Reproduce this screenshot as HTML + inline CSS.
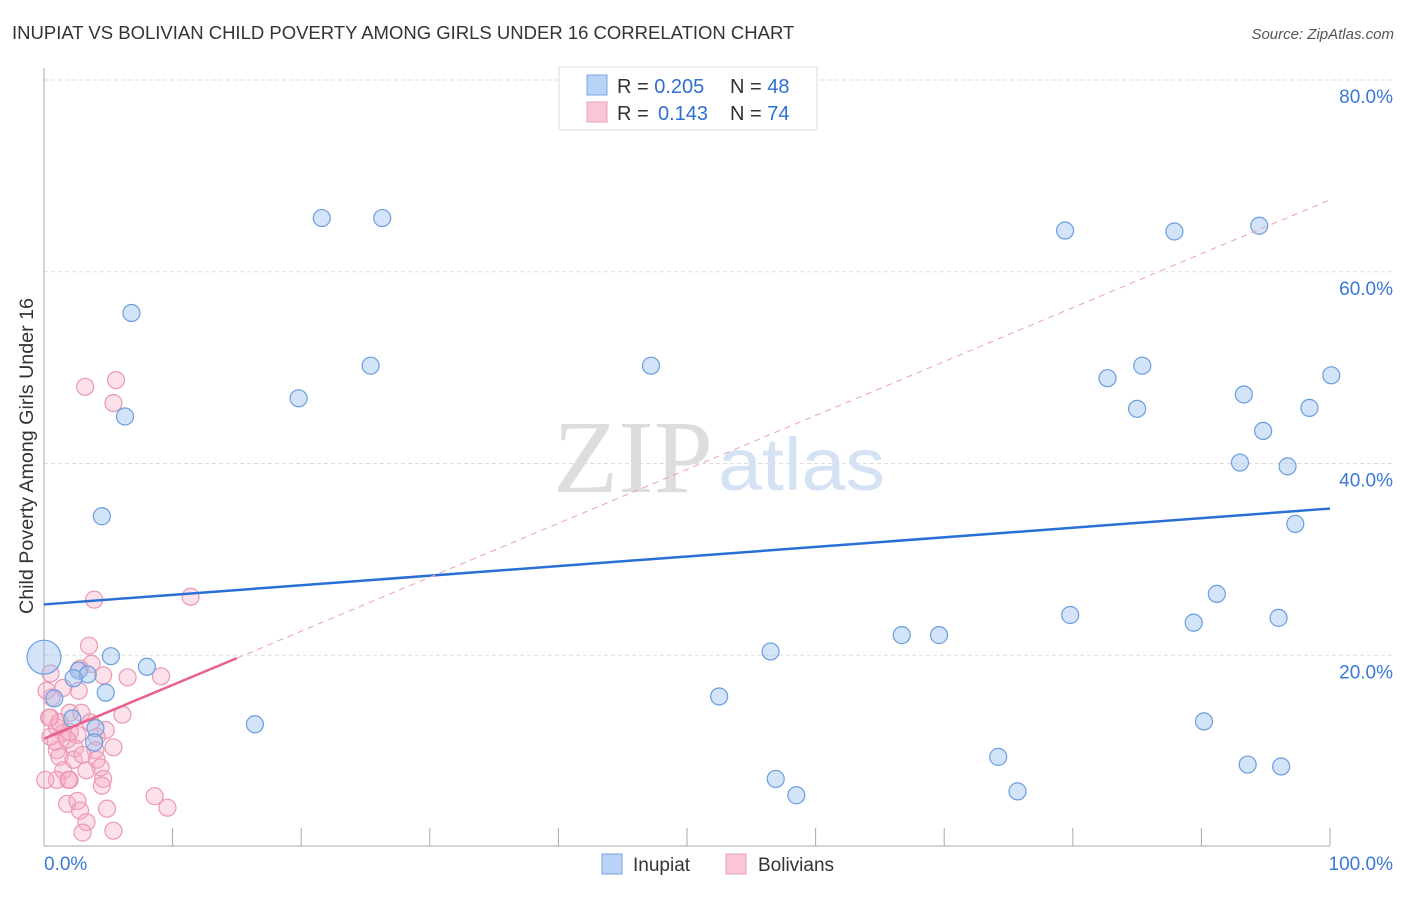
<!DOCTYPE html>
<html><head><meta charset="utf-8"><style>
body{margin:0;background:#fff;font-family:"Liberation Sans",sans-serif}
svg text{font-family:"Liberation Sans",sans-serif}
</style></head><body>
<svg id="c" width="1406" height="892" xmlns="http://www.w3.org/2000/svg">
<text x="12" y="39" font-size="18.5" fill="#333">INUPIAT VS BOLIVIAN CHILD POVERTY AMONG GIRLS UNDER 16 CORRELATION CHART</text>
<text x="1394" y="39" font-size="15" fill="#555" text-anchor="end" font-style="italic">Source: ZipAtlas.com</text>
<g id="grid"></g>
<text x="553" y="492" font-size="104" fill="#ddd" style="font-family:'Liberation Serif',serif" textLength="160" lengthAdjust="spacingAndGlyphs">ZIP</text>
<text x="718" y="490" font-size="74" fill="#d4e2f4" textLength="167" lengthAdjust="spacingAndGlyphs">atlas</text>
<g id="axes"></g>
<g id="pts"></g>
<g id="lines"></g>
<text transform="translate(33,456) rotate(-90)" font-size="19" fill="#333" text-anchor="middle" textLength="316" lengthAdjust="spacingAndGlyphs">Child Poverty Among Girls Under 16</text>
<g>
<rect x="559" y="67" width="258" height="63" fill="#fff" stroke="#ddd"/>
<rect x="587" y="75" width="20" height="20" fill="#b8d3f5" stroke="#7aa6e0"/>
<rect x="587" y="102" width="20" height="20" fill="#f9c6d5" stroke="#eaa0b8"/>
<text x="617" y="93" font-size="20" fill="#333">R = <tspan fill="#2f6fd0">0.205</tspan><tspan x="730">N = </tspan><tspan fill="#2f6fd0">48</tspan></text>
<text x="617" y="120" font-size="20" fill="#333">R = <tspan x="658" fill="#2f6fd0">0.143</tspan><tspan x="730">N = </tspan><tspan fill="#2f6fd0">74</tspan></text>
</g>
<g>
<rect x="602" y="854" width="20" height="20" fill="#b8d3f5" stroke="#7aa6e0"/>
<text x="633" y="871" font-size="19" fill="#333">Inupiat</text>
<rect x="726" y="854" width="20" height="20" fill="#f9c6d5" stroke="#eaa0b8"/>
<text x="758" y="871" font-size="19" fill="#333">Bolivians</text>
</g>
</svg>
<script>
const yTicks=[20,40,60,80];
const yTickLabels=["20.0%","40.0%","60.0%","80.0%"];
const xTicks=[0,10,20,30,40,50,60,70,80,90,100];
const inupiatX=[21.6,26.3,6.8,6.3,19.8,25.4,47.2,4.5,79.4,87.9,94.5,82.7,85.4,85.0,93.3,100.1,98.4,94.8,93.0,96.7,97.3,91.2,89.4,79.8,96.0,66.7,69.6,56.5,52.5,90.2,74.2,93.6,96.2,56.9,58.5,75.7,16.4,5.2,8.0,2.7,3.4,4.8,4.0,0.0,2.3,0.8,2.2,3.9];
const inupiatY=[65.6,65.6,55.7,44.9,46.8,50.2,50.2,34.5,64.3,64.2,64.8,48.9,50.2,45.7,47.2,49.2,45.8,43.4,40.1,39.7,33.7,26.4,23.4,24.2,23.9,22.1,22.1,20.4,15.7,13.1,9.4,8.6,8.4,7.1,5.4,5.8,12.8,19.9,18.8,18.4,18.0,16.1,12.4,19.8,17.6,15.5,13.4,10.9];
const bolivX=[3.9,11.4,3.5,3.7,2.8,4.6,6.5,9.1,0.5,1.5,2.7,0.6,6.1,2.0,2.9,0.5,1.0,1.5,2.6,4.1,5.4,4.0,1.0,1.2,4.1,2.3,4.4,1.5,3.3,2.0,4.6,1.0,1.9,4.5,1.8,2.6,2.8,4.9,8.6,9.6,3.3,3.0,5.4,0.1,0.2,3.2,5.6,5.4,0.5,0.4,2.0,1.2,0.9,3.6,4.8,1.8,2.4,3.0];
const bolivY=[25.8,26.1,21.0,19.1,18.6,17.9,17.7,17.8,18.1,16.6,16.3,15.6,13.8,14.0,14.0,13.5,12.5,11.9,11.7,11.5,10.4,10.1,10.1,9.4,9.1,9.1,8.3,8.0,8.0,7.0,7.1,7.0,7.0,6.4,4.5,4.8,3.8,4.0,5.3,4.1,2.6,1.5,1.7,7.0,16.3,48.0,48.7,46.3,11.5,13.5,12.0,13.0,11.0,13.0,12.2,11.2,10.3,9.6];
const inuLine=[25.3,35.3];
const bolLine=[11.3,19.7,67.5];
const X=v=>44+v*12.86, Y=v=>847-v*9.5875;
const NS="http://www.w3.org/2000/svg";
function mk(t,a,p){const e=document.createElementNS(NS,t);for(const k in a)e.setAttribute(k,a[k]);p.appendChild(e);return e;}
const grid=document.getElementById('grid'),axes=document.getElementById('axes'),pts=document.getElementById('pts'),lines=document.getElementById('lines');
yTicks.forEach((t,i)=>{const l=mk('line',{x1:44,x2:1394,y1:Y(t),y2:Y(t),stroke:'#ddd','stroke-dasharray':'4,3'},grid);


const tx=mk('text',{x:1393,y:Y(t)+23,'font-size':19,fill:'#3a78d6','text-anchor':'end'},axes);tx.textContent=yTickLabels[i];

});
mk('line',{x1:44,x2:44,y1:68,y2:846,stroke:'#aaa'},axes);
mk('line',{x1:44,x2:1330,y1:846,y2:846,stroke:'#aaa'},axes);
xTicks.forEach(t=>{const l=mk('line',{x1:X(t),x2:X(t),y1:828,y2:846,stroke:'#aaa'},axes);

});
const x0=mk('text',{x:44,y:870,'font-size':19,fill:'#3a78d6'},axes);x0.textContent='0.0%';


const x1=mk('text',{x:1393,y:870,'font-size':19,fill:'#3a78d6','text-anchor':'end'},axes);x1.textContent='100.0%';


bolivX.forEach((v,i)=>{const c=mk('circle',{cx:X(v),cy:Y(bolivY[i]),r:8.5,fill:'rgba(246,170,196,0.35)',stroke:'#eb98b4','stroke-width':1.2},pts);

});
inupiatX.forEach((v,i)=>{const c=mk('circle',{cx:X(v),cy:Y(inupiatY[i]),r:i==43?17:8.5,fill:'rgba(160,196,240,0.45)',stroke:'#6a9de0','stroke-width':1.2},pts);

});
const bl=mk('line',{x1:X(0),y1:Y(inuLine[0]),x2:X(100),y2:Y(inuLine[1]),stroke:'#2a6fd6','stroke-width':2.5},lines);


const pl=mk('line',{x1:X(0),y1:Y(bolLine[0]),x2:X(15),y2:Y(bolLine[1]),stroke:'#e8608c','stroke-width':2.5},lines);


const pd=mk('line',{x1:X(15),y1:Y(bolLine[1]),x2:X(100),y2:Y(bolLine[2]),stroke:'#eaa0b8','stroke-width':1,'stroke-dasharray':'6,5'},lines);


</script>
</body></html>
